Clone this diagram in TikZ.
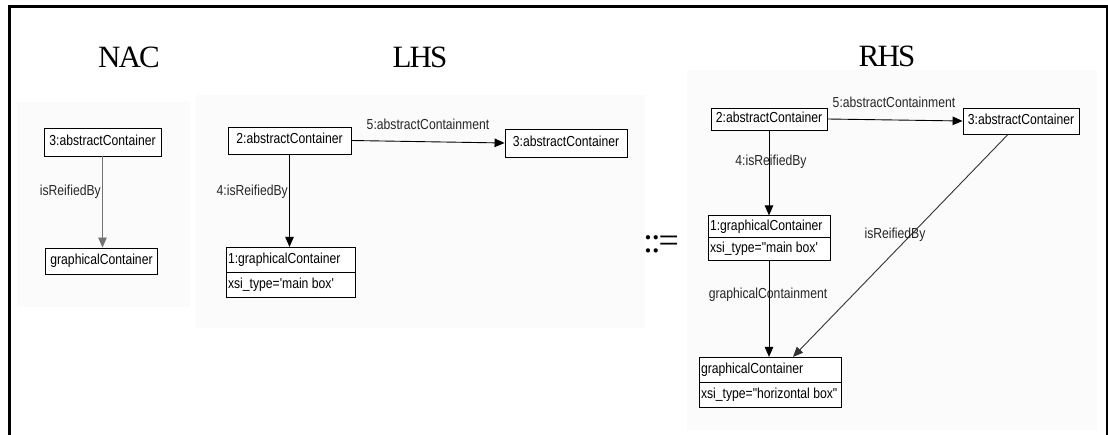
\documentclass[tikz,border=0pt]{standalone}
\usepackage{fontspec}
\setmainfont{Liberation Sans}
\newfontfamily\umlfont[FakeStretch=0.84]{Liberation Sans}
\newfontfamily\titlefont[LetterSpace=-6]{Liberation Serif}
\usepackage{tikz}
\usetikzlibrary{shapes,shapes.multipart,arrows.meta,positioning,calc}

\begin{document}
\begin{tikzpicture}[x=1pt, y=-1pt,
    box/.style={rectangle, draw, line width=0.9pt, inner xsep=2pt, inner ysep=0pt, font=\umlfont\fontsize{14.5}{15}\selectfont, text height=10pt, text depth=3pt, fill=white},
    objbox/.style={rectangle split, rectangle split parts=2, rectangle split part align=left, draw, line width=0.9pt, inner xsep=2pt, inner ysep=5.5pt, font=\umlfont\fontsize{14.5}{15}\selectfont, text height=10pt, text depth=3pt, fill=white},
    lbl/.style={font=\umlfont\fontsize{14.5}{15}\selectfont, text=black!85, inner sep=1pt},
    title/.style={font=\titlefont\fontsize{31}{31}\selectfont},
    panel/.style={fill=black!1.5, draw=none},
    arrow/.style={-{Triangle[length=10pt,width=8.5pt]}, line width=0.9pt}
]
\useasboundingbox (0,0) rectangle (1108,435);

% frame and background panels
\draw[line width=3pt] (9,440) -- (9,7) -- (1107,7) -- (1107,440);
\fill[panel] (17,102) rectangle (190,307);
\fill[panel] (196,95) rectangle (645,328);
\fill[panel] (687,70) rectangle (1097,430);

% NAC
\node[title] (tnac) at (129,57) {NAC};
\node[box, minimum width=117pt, minimum height=28pt] (nac3) at (102.5,142) {3:abstractContainer};
\node[box, minimum width=112pt, minimum height=26pt] (nacg) at (101.5,261) {graphicalContainer};
\draw[arrow, draw=black!55] (nac3.south) -- (nac3.south |- nacg.north);
\node[lbl, anchor=east] (nacl) at (102,192) {isReifiedBy};

% LHS
\node[title] (tlhs) at (420,57) {LHS};
\node[box, minimum width=123pt, minimum height=27pt] (lhs2) at (289.5,140.5) {2:abstractContainer};
\node[box, minimum width=122pt, minimum height=28pt] (lhs3) at (566,143) {3:abstractContainer};
\node[objbox, minimum width=129pt] (lhs1) at (290.5,272.5) {1:graphicalContainer\nodepart{two}xsi\_type='main box'};
\draw[arrow] (lhs2.east) -- (lhs3.west);
\draw[arrow] (lhs2.south) -- (lhs2.south |- lhs1.north);
\node[lbl] (lhsl5) at (428,124) {5:abstractContainment};
\node[lbl, anchor=east] (lhsl4) at (289,192) {4:isReifiedBy};

% ::=
\node[font=\titlefont\fontsize{36}{36}\selectfont] (def) at (661,244) {::=};

% RHS
\node[title] (trhs) at (887,56) {RHS};
\node[box, minimum width=116pt, minimum height=22pt] (rhs2) at (769,119) {2:abstractContainer};
\node[box, minimum width=116pt, minimum height=26pt] (rhs3) at (1021,121) {3:abstractContainer};
\node[objbox, minimum width=122pt, inner ysep=4pt] (rhs1) at (769,238) {1:graphicalContainer\nodepart{two}xsi\_type="main box'};
\node[objbox, minimum width=142pt] (rhsg) at (770,382.5) {graphicalContainer\nodepart{two}xsi\_type="horizontal box"};
\draw[arrow] (rhs2.east) -- (rhs3.west);
\draw[arrow] (rhs2.south) -- (rhs2.south |- rhs1.north);
\draw[arrow] (rhs1.south) -- (rhs1.south |- rhsg.north);
\draw[arrow, draw=black!80] ([xshift=-13pt]rhs3.south) -- ([xshift=23pt]rhsg.north);
\node[lbl] (rhsl5) at (894,102) {5:abstractContainment};
\node[lbl] (rhsl4) at (771,162) {4:isReifiedBy};
\node[lbl] (rhslg) at (768,295) {graphicalContainment};
\node[lbl] (rhslr) at (895,235) {isReifiedBy};

\end{tikzpicture}
\end{document}
